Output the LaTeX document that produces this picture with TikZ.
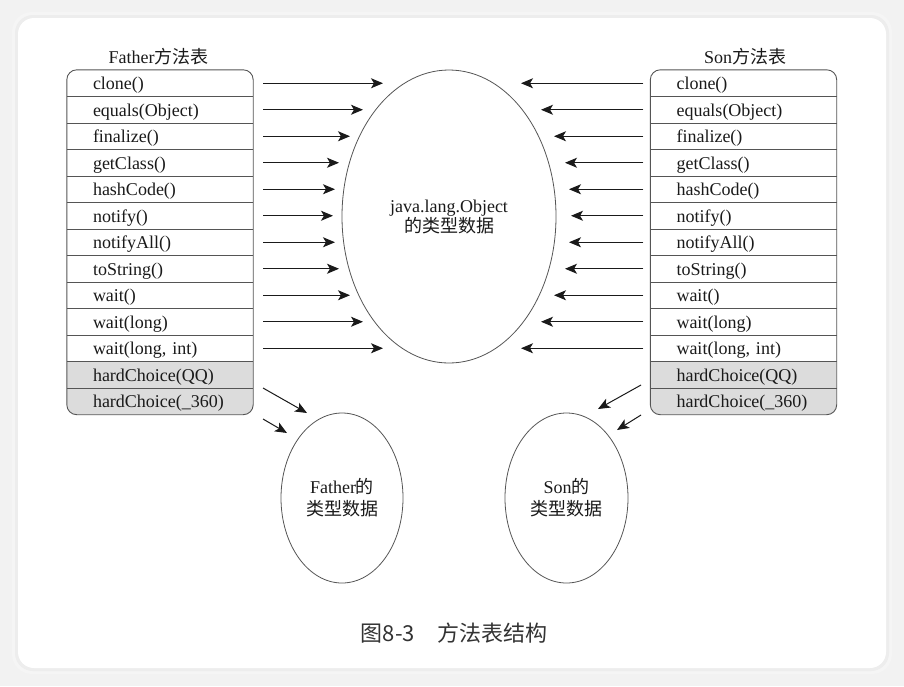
\documentclass[tikz,border=0pt]{standalone}
\usepackage{fontspec}
\setmainfont{Liberation Serif}
\newfontfamily\cjk{Noto Sans CJK SC}
\usetikzlibrary{shapes.geometric,arrows.meta,backgrounds}
\definecolor{ink}{HTML}{1A1A1A}
\definecolor{rule}{HTML}{555555}
\definecolor{rowgrey}{HTML}{DCDCDC}
\definecolor{pagebg}{HTML}{F2F2F2}
\definecolor{captionink}{HTML}{333333}

\begin{document}
\begin{tikzpicture}[x=1pt,y=-1pt,
  every node/.style={font=\fontsize{18}{20}\selectfont, text=ink},
  row/.style={rectangle, minimum width=186pt, minimum height=26.5pt, inner sep=0pt,
              text width=134pt, align=left, text height=15pt, text depth=2pt},
  heading/.style={inner sep=0pt},
  blob/.style={draw=rule, line width=0.8pt, ellipse, inner sep=0pt, align=center},
  arr/.style={draw=ink, line width=1pt, -{Stealth[length=12pt,width=10pt,inset=3pt]}},
  frame/.style={draw=rule, line width=0.9pt},
  sep/.style={draw=rule, line width=0.8pt}
]
\useasboundingbox (0,0) rectangle (904,686);

% ---------- method tables ----------
\foreach \t [count=\i, evaluate=\i as \yy using 83.25+26.5*(\i-1)] in
  {{clone()},{equals(Object)},{finalize()},{getClass()},{hashCode()},{notify()},
   {notifyAll()},{toString()},{wait()},{wait(long)},{wait(long, int)},
   {hardChoice(QQ)},{hardChoice(\_360)}}
{
  \node[row] (f\i) at (160,\yy) {\t};
  \node[row] (s\i) at (743.5,\yy) {\t};
}

\node[heading] (ftitle) at (158.5,57) {Father{\cjk 方法表}};
\node[heading] (stitle) at (745,57) {Son{\cjk 方法表}};

\begin{scope}[on background layer]
  % page and card
  \fill[pagebg] (0,0) rectangle (904,686);
  \fill[black!4, rounded corners=20] (12,12) rectangle (892,674);
  \fill[black!7, rounded corners=18] (15,15) rectangle (889,671);
  \fill[white, rounded corners=16] (18,18) rectangle (886,668);
  % grey rows of both tables
  \begin{scope}
    \clip[rounded corners=10] (f1.north west) rectangle (f13.south east);
    \fill[rowgrey] (f12.north west) rectangle (f13.south east);
  \end{scope}
  \begin{scope}
    \clip[rounded corners=10] (s1.north west) rectangle (s13.south east);
    \fill[rowgrey] (s12.north west) rectangle (s13.south east);
  \end{scope}
\end{scope}

\foreach \i in {1,...,12} {
  \draw[sep] (f\i.south west) -- (f\i.south east);
  \draw[sep] (s\i.south west) -- (s\i.south east);
}
\draw[frame, rounded corners=10] (f1.north west) rectangle (f13.south east);
\draw[frame, rounded corners=10] (s1.north west) rectangle (s13.south east);

% ---------- type data ----------
\node[blob, minimum width=214pt, minimum height=293pt] (obj) at (449,216.5)
  {java.lang.Object\\{\cjk 的类型数据}};
\node[blob, minimum width=122pt, minimum height=170pt, font=\fontsize{18}{22}\selectfont]
  (fdata) at (342,498) {Father{\cjk 的}\\{\cjk 类型数据}};
\node[blob, minimum width=123pt, minimum height=170pt, font=\fontsize{18}{22}\selectfont]
  (sdata) at (566.5,498) {Son{\cjk 的}\\{\cjk 类型数据}};

% ---------- inherited methods point at Object ----------
\foreach \i/\lx/\rx in {1/383/521, 2/363/541, 3/350/554, 4/339/565, 5/335/569,
                        6/333/571, 7/335/569, 8/339/565, 9/350/554, 10/363/541, 11/383/521}
{
  \coordinate (ft\i) at (\lx,0 |- f\i.east);
  \coordinate (st\i) at (\rx,0 |- s\i.west);
  \draw[arr, shorten <=10pt] (f\i.east) -- (ft\i);
  \draw[arr, shorten <=7pt] (s\i.west) -- (st\i);
}

% ---------- own methods point at own class ----------
\coordinate (fqa) at (263,388); \coordinate (fqb) at (307,413);
\coordinate (fwa) at (263,419); \coordinate (fwb) at (287,433);
\coordinate (sqa) at (641,385); \coordinate (sqb) at (598,409);
\coordinate (swa) at (641,415); \coordinate (swb) at (617,430);
\draw[arr] (fqa) -- (fqb);
\draw[arr] (fwa) -- (fwb);
\draw[arr] (sqa) -- (sqb);
\draw[arr] (swa) -- (swb);

% ---------- caption ----------
\node[font=\cjk\fontsize{22}{24}\selectfont, text=captionink, inner sep=0pt] (cap) at (454,633)
  {图8-3　方法表结构};
\end{tikzpicture}
\end{document}
